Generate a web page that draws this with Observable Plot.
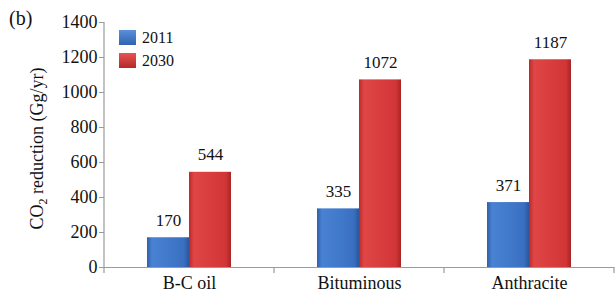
<!DOCTYPE html>
<html>
<head>
<meta charset="utf-8">
<script src="https://cdn.jsdelivr.net/npm/d3@7"></script>
<script src="https://cdn.jsdelivr.net/npm/@observablehq/plot@0.6"></script>
<style>
  html, body { margin: 0; padding: 0; background: #fff; }
  #wrap { position: relative; width: 615px; height: 298px; font-family: "Liberation Serif", serif; color: #111; }
  #wrap svg text { font-family: "Liberation Serif", serif !important; }
  #legend { position: absolute; left: 119px; top: 26px; font-size: 16px; line-height: 23px; font-family: "Liberation Serif", serif; }
  #legend .row { display: flex; align-items: center; height: 23px; }
  #legend .sw { width: 17px; height: 15px; margin-right: 6px; }
  #tag { position: absolute; left: 9px; top: 7px; font-size: 20px; font-family: "Liberation Serif", serif; }
</style>
</head>
<body>
<svg width="0" height="0" style="position:absolute">
  <defs>
    <linearGradient id="gBlue" x1="0" x2="1" y1="0" y2="0">
      <stop offset="0" stop-color="#2f5fa8"/>
      <stop offset="0.12" stop-color="#4a82d3"/>
      <stop offset="0.5" stop-color="#427acb"/>
      <stop offset="0.88" stop-color="#3a6fc0"/>
      <stop offset="1" stop-color="#2a569c"/>
    </linearGradient>
    <linearGradient id="gRed" x1="0" x2="1" y1="0" y2="0">
      <stop offset="0" stop-color="#b92a2a"/>
      <stop offset="0.12" stop-color="#e04646"/>
      <stop offset="0.5" stop-color="#d93d3d"/>
      <stop offset="0.88" stop-color="#d13535"/>
      <stop offset="1" stop-color="#a82424"/>
    </linearGradient>
  </defs>
</svg>
<div id="wrap">
  <div id="tag">(b)</div>
  <div id="legend"></div>
</div>
<script>
const categories = ["B-C oil", "Bituminous", "Anthracite"];
const years = ["2011", "2030"];
const values2011 = [170, 335, 371];
const values2030 = [544, 1072, 1187];
const yTicks = [0, 200, 400, 600, 800, 1000, 1200, 1400];
const yLabelMain = "CO";
const yLabelSub = "2";
const yLabelRest = " reduction (Gg/yr)";
const fills = ["url(#gBlue)", "url(#gRed)"];
const serif = "Liberation Serif";

const data = categories.flatMap((c, i) => [
  {category: c, year: years[0], value: values2011[i]},
  {category: c, year: years[1], value: values2030[i]}
]);

const plot = Plot.plot({
  width: 615,
  height: 298,
  marginLeft: 104,
  marginRight: 1,
  marginTop: 22,
  marginBottom: 31,
  style: {fontFamily: serif, color: "#111", background: "transparent"},
  fx: {domain: categories, padding: 0, label: null},
  x: {domain: years, paddingInner: 0, paddingOuter: 0.977, axis: null},
  y: {domain: [0, 1400], label: null},
  color: {domain: years, range: fills},
  marks: [
    Plot.barY(data, {fx: "category", x: "year", y: "value", fill: "year"}),
    Plot.text(data, {fx: "category", x: "year", y: "value", text: d => String(d.value), lineAnchor: "bottom", dy: -12, fontSize: 17, fill: "#111"}),
    Plot.ruleY([0], {stroke: "#9a9a9a", strokeWidth: 1.2}),
    Plot.axisY({ticks: yTicks, tickSize: 5, tickPadding: 2, fontSize: 18, stroke: "#9a9a9a", fill: "#111", label: null, tickFormat: d => String(d)}),
    Plot.axisFx({anchor: "bottom", tickSize: 0, tickPadding: 9, fontSize: 18, fill: "#111", label: null})
  ]
});

const wrap = document.getElementById("wrap");
wrap.insertBefore(plot, wrap.firstChild);

// axis lines and category separators from the plot's scales
const svg = d3.select(plot);
const yS = plot.scale("y");
const y = d3.scaleLinear(yS.domain, yS.range);
const fxS = plot.scale("fx");
const fx = d3.scaleBand(fxS.domain, fxS.range).paddingInner(fxS.paddingInner ?? 0).paddingOuter(fxS.paddingOuter ?? 0);
const x0 = fxS.range[0];
svg.append("line")
  .attr("x1", x0).attr("x2", x0)
  .attr("y1", y(0) + 6).attr("y2", y(1400))
  .attr("stroke", "#9a9a9a").attr("stroke-width", 1.2);
svg.selectAll("line.sep").data(categories).join("line")
  .attr("class", "sep")
  .attr("x1", d => fx(d) + fx.bandwidth()).attr("x2", d => fx(d) + fx.bandwidth())
  .attr("y1", y(0)).attr("y2", y(0) + 6)
  .attr("stroke", "#9a9a9a").attr("stroke-width", 1.2);

// y label with subscript
const yl = svg.append("text")
  .attr("transform", `translate(43,${(y(0) + y(1400)) / 2 + 4}) rotate(-90)`)
  .attr("text-anchor", "middle")
  .attr("font-size", 18)
  .attr("fill", "#111");
yl.append("tspan").text(yLabelMain);
yl.append("tspan").attr("dy", 4).attr("font-size", 12).text(yLabelSub);
yl.append("tspan").attr("dy", -4).text(yLabelRest);

// force the serif face on every text element
svg.selectAll("text, tspan").attr("font-family", serif).style("font-family", "'Liberation Serif', serif");

// legend
const leg = d3.select("#legend");
years.forEach((yr, i) => {
  const row = leg.append("div").attr("class", "row");
  row.append("div").attr("class", "sw").style("background", i === 0 ? "linear-gradient(#5a8fdc,#2f63b0)" : "linear-gradient(#e85252,#b52929)");
  row.append("span").text(yr);
});
</script>
</body>
</html>
